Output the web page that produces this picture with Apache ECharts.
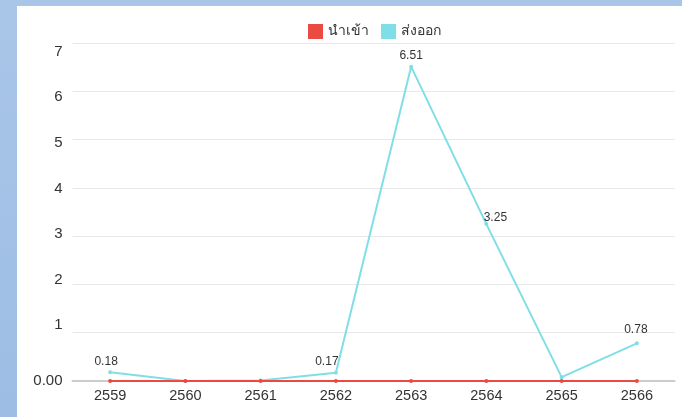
<!DOCTYPE html>
<html>
<head>
<meta charset="utf-8">
<script src="https://cdn.jsdelivr.net/npm/echarts@6/dist/echarts.min.js"></script>
<style>
  html, body { margin: 0; padding: 0; width: 682px; height: 417px; overflow: hidden; }
  body { background: linear-gradient(180deg, #a9c6e8 0%, #9dbde4 100%); position: relative; }
  #chart { position: absolute; left: 17px; top: 6px; width: 665px; height: 411px; background: #fff; }
</style>
</head>
<body>
<div id="chart"></div>
<script>
const years = ['2559', '2560', '2561', '2562', '2563', '2564', '2565', '2566']
const importValues = [0, 0, 0, 0, 0, 0, 0, 0]
const exportValues = [0.18, 0, 0.01, 0.17, 6.51, 3.25, 0.08, 0.78]

// value labels in the source are nudged off their points
const labelNudge = [[-4, 0], [0, 0], [0, 0], [-9, 0], [0, 0], [9, 5], [0, 0], [-1, -3]]

// the source tick labels drift away from their grid lines; shift (px) per tick
const tickShift = { 0: 0, 1: -7.5, 2: -5, 3: -2, 4: 1, 5: 3.5, 6: 6, 7: 8.5 }

const rich = {}
Object.keys(tickShift).forEach((k) => {
  const d = tickShift[k]
  rich['t' + k] = {
    fontSize: 15,
    color: '#333',
    padding: d >= 0 ? [2 * d, 0, 0, 0] : [0, 0, -2 * d, 0],
  }
})

const chart = echarts.init(document.getElementById('chart'))

chart.setOption({
  animation: false,
  textStyle: { fontFamily: 'Liberation Sans, Noto Sans, sans-serif' },
  legend: {
    top: 13,
    left: 286,
    itemWidth: 15,
    itemHeight: 15,
    itemGap: 12,
    icon: 'rect',
    textStyle: { fontSize: 14, color: '#333' },
    data: ['นำเข้า', 'ส่งออก'],
  },
  grid: { left: 55.5, right: 7.5, top: 37, bottom: 36 },
  xAxis: {
    type: 'category',
    data: years,
    axisTick: { show: false },
    axisLine: { lineStyle: { color: '#ccc', width: 2 } },
    axisLabel: { fontSize: 14.5, color: '#333', margin: 7 },
  },
  yAxis: {
    type: 'value',
    min: 0,
    max: 7,
    interval: 1,
    axisLabel: {
      margin: 10,
      formatter: (v) => `{t${v}|${v === 0 ? '0.00' : v}}`,
      rich,
    },
    splitLine: { lineStyle: { color: '#e8e8e8' } },
  },
  series: [
    {
      name: 'นำเข้า',
      type: 'line',
      data: importValues,
      color: '#ea4a42',
      symbol: 'circle',
      symbolSize: 4,
      lineStyle: { width: 2 },
      z: 3,
    },
    {
      name: 'ส่งออก',
      type: 'line',
      data: exportValues.map((v, i) => ({ value: v, label: { offset: labelNudge[i] } })),
      color: '#80dfe6',
      symbol: 'circle',
      symbolSize: 4,
      lineStyle: { width: 2 },
      label: {
        show: true,
        position: 'top',
        fontSize: 12,
        color: '#333',
        distance: 3,
        formatter: (p) => (p.value >= 0.1 ? p.value.toFixed(2) : ''),
      },
      z: 2,
    },
  ],
})
</script>
</body>
</html>
